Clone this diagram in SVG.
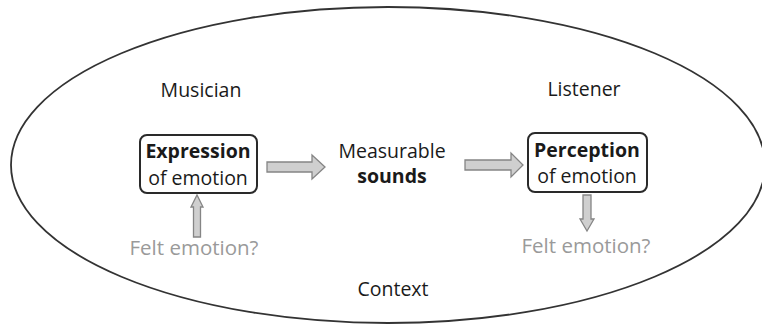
<svg xmlns="http://www.w3.org/2000/svg" width="762" height="326" viewBox="0 0 762 326">
<style>
.t{font-family:"Open Sans","Noto Sans","DejaVu Sans",sans-serif;font-size:19.5px;fill:#1a1a1a;text-anchor:middle}
.b{font-weight:bold}
.g{fill:#9a9a9a;font-size:20.5px}
.box{fill:#fff;stroke:#2a2a2a;stroke-width:2}
.arr{fill:#cfcfcf;stroke:#858585;stroke-width:1.3;stroke-linejoin:miter}
</style>
<rect width="762" height="326" fill="#fff"/>
<g id="context">
<ellipse cx="388" cy="165" rx="377" ry="158" fill="none" stroke="#333" stroke-width="1.8"/>
<text class="t" x="393" y="296">Context</text>
</g>
<g id="musician"><text class="t" x="201" y="97">Musician</text></g>
<g id="listener"><text class="t" x="584" y="96">Listener</text></g>
<g id="expression">
<rect class="box" x="140" y="135" width="117" height="58" rx="7"/>
<text class="t b" x="198" y="158">Expression</text>
<text class="t" x="198" y="185">of emotion</text>
</g>
<g id="sounds">
<text class="t" x="392" y="158">Measurable</text>
<text class="t b" x="392" y="183">sounds</text>
</g>
<g id="perception">
<rect class="box" x="528" y="133" width="119" height="59" rx="7"/>
<text class="t b" x="587" y="157">Perception</text>
<text class="t" x="587" y="183">of emotion</text>
</g>
<g id="felt-left"><text class="t g" x="194" y="255">Felt emotion?</text></g>
<g id="felt-right"><text class="t g" x="586" y="253">Felt emotion?</text></g>
<g id="connectors">
<path class="arr" d="M267,162 H312 V155 L325,167 L312,179 V172 H267 Z"/>
<path class="arr" d="M465,160 H511 V153 L523,165 L511,177 V170 H465 Z"/>
<path class="arr" d="M193.5,237 V207 H191 L197,195 L203,207 H200.5 V237 Z"/>
<path class="arr" d="M583,195 V219 H580 L587,231 L594,219 H591 V195 Z"/>
</g>
</svg>
